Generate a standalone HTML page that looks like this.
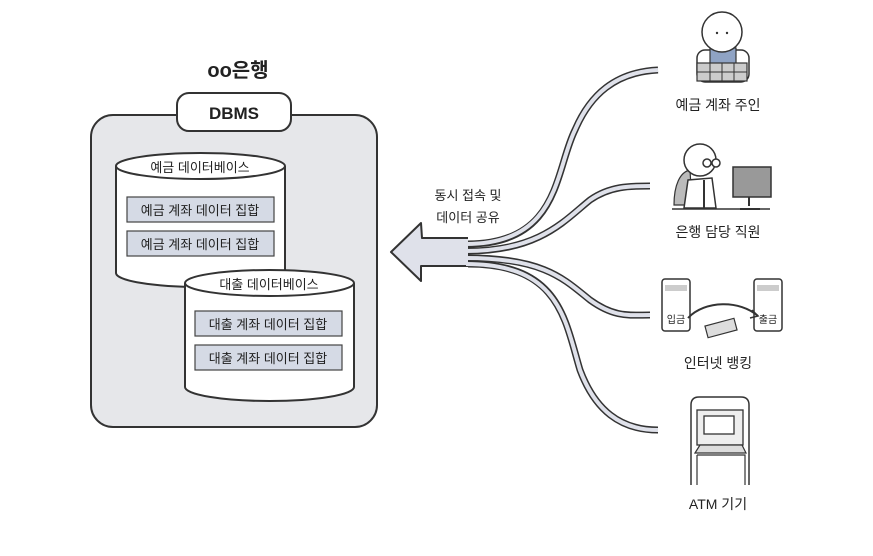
<!DOCTYPE html>
<html><head><meta charset="utf-8"><style>
html,body{margin:0;padding:0;background:#fff;}
svg{display:block;}
text{font-family:"Liberation Sans","Noto Sans CJK KR",sans-serif;fill:#222;}
</style></head><body>
<svg width="873" height="556" viewBox="0 0 873 556" xmlns="http://www.w3.org/2000/svg">
<text x="238" y="77" font-size="20" font-weight="bold" text-anchor="middle">oo은행</text>
<rect x="91" y="115" width="286" height="312" rx="22" fill="#e6e7ea" stroke="#333" stroke-width="2"/>
<rect x="177" y="93" width="114" height="38" rx="12" fill="#fff" stroke="#333" stroke-width="2"/>
<text x="234" y="119" font-size="17" font-weight="bold" text-anchor="middle">DBMS</text>
<!-- cylinder 1 -->
<path d="M116 166 V273 A84.5 14 0 0 0 285 273 V166" fill="#fff" stroke="#333" stroke-width="2"/>
<ellipse cx="200.5" cy="166" rx="84.5" ry="13" fill="#fff" stroke="#333" stroke-width="2"/>
<text x="200" y="172" font-size="13" text-anchor="middle">예금 데이터베이스</text>
<rect x="127" y="197" width="147" height="25" fill="#d5dae5" stroke="#444" stroke-width="1.2"/>
<text x="200" y="215" font-size="13" text-anchor="middle">예금 계좌 데이터 집합</text>
<rect x="127" y="231" width="147" height="25" fill="#d5dae5" stroke="#444" stroke-width="1.2"/>
<text x="200" y="249" font-size="13" text-anchor="middle">예금 계좌 데이터 집합</text>
<!-- cylinder 2 -->
<path d="M185 283 V387 A84.5 14 0 0 0 354 387 V283" fill="#fff" stroke="#333" stroke-width="2"/>
<ellipse cx="269.5" cy="283" rx="84.5" ry="13" fill="#fff" stroke="#333" stroke-width="2"/>
<text x="269" y="289" font-size="13" text-anchor="middle">대출 데이터베이스</text>
<rect x="195" y="311" width="147" height="25" fill="#d5dae5" stroke="#444" stroke-width="1.2"/>
<text x="268" y="329" font-size="13" text-anchor="middle">대출 계좌 데이터 집합</text>
<rect x="195" y="345" width="147" height="25" fill="#d5dae5" stroke="#444" stroke-width="1.2"/>
<text x="268" y="363" font-size="13" text-anchor="middle">대출 계좌 데이터 집합</text>
<!-- arrow -->
<path d="M468 238 L422 238 L421 223 L391 252 L421 281 L421 266 L468 266" fill="#dfe1ea" stroke="#333" stroke-width="2" stroke-linejoin="round"/>
<text x="468" y="200" font-size="13" text-anchor="middle">동시 접속 및</text>
<text x="468" y="222" font-size="13" text-anchor="middle">데이터 공유</text>
<g fill="none">
<g stroke="#333" stroke-width="7">
<path d="M468 244 C560 244 555 170 575 130 C590 95 615 72 658 70"/>
<path d="M468 251 C540 251 565 220 590 200 C610 186 630 186 650 186"/>
<path d="M468 258 C545 258 565 280 590 300 C615 318 630 315 650 315"/>
<path d="M468 264 C560 264 565 320 580 370 C595 410 620 430 658 430"/>
</g>
<g stroke="#dfe1ea" stroke-width="4">
<path d="M466 244 C560 244 555 170 575 130 C590 95 615 72 658 70"/>
<path d="M466 251 C540 251 565 220 590 200 C610 186 630 186 650 186"/>
<path d="M466 258 C545 258 565 280 590 300 C615 318 630 315 650 315"/>
<path d="M466 264 C560 264 565 320 580 370 C595 410 620 430 658 430"/>
</g>
</g>
<!-- person 1 -->
<rect x="697" y="50" width="52" height="32" rx="8" fill="#fff" stroke="#333" stroke-width="1.5"/>
<rect x="710" y="48" width="26" height="20" fill="#8fa3c4" stroke="#333" stroke-width="1.2"/>
<circle cx="722" cy="32" r="20" fill="#fff" stroke="#333" stroke-width="1.5"/>
<circle cx="717" cy="33" r="1.2" fill="#333"/><circle cx="727" cy="33" r="1.2" fill="#333"/>
<rect x="697" y="63" width="50" height="18" fill="#ccc" stroke="#333" stroke-width="1.2"/>
<path d="M710 63 V81 M722 63 V81 M734 63 V81 M697 72 H747" stroke="#333" stroke-width="1"/>
<text x="718" y="110" font-size="14" text-anchor="middle">예금 계좌 주인</text>
<!-- person 2 -->
<path d="M674 205 C674 185 680 172 690 170 L692 205 Z" fill="#bbb" stroke="#333" stroke-width="1.2"/>
<path d="M684 208 L688 180 L712 178 L716 208 Z" fill="#fff" stroke="#333" stroke-width="1.5"/>
<path d="M704 180 V208" stroke="#333" stroke-width="2"/>
<circle cx="700" cy="160" r="16" fill="#fff" stroke="#333" stroke-width="1.5"/>
<circle cx="707" cy="163" r="4" fill="#fff" stroke="#333" stroke-width="1.5"/>
<circle cx="716" cy="163" r="4" fill="#fff" stroke="#333" stroke-width="1.5"/>
<rect x="733" y="167" width="38" height="30" fill="#999" stroke="#333" stroke-width="1.5"/>
<path d="M749 197 V206 M740 209 H760" stroke="#333" stroke-width="2"/>
<path d="M672 209 H770" stroke="#333" stroke-width="1.5"/>
<text x="718" y="237" font-size="14" text-anchor="middle">은행 담당 직원</text>
<!-- internet banking -->
<rect x="662" y="279" width="28" height="52" rx="3" fill="#fff" stroke="#333" stroke-width="1.5"/>
<rect x="665" y="285" width="22" height="6" fill="#ccc"/>
<text x="676" y="323" font-size="10" text-anchor="middle">입금</text>
<rect x="754" y="279" width="28" height="52" rx="3" fill="#fff" stroke="#333" stroke-width="1.5"/>
<rect x="757" y="285" width="22" height="6" fill="#ccc"/>
<text x="768" y="323" font-size="10" text-anchor="middle">출금</text>
<path d="M688 318 C705 300 740 300 758 316" fill="none" stroke="#333" stroke-width="2"/>
<path d="M752 310 L758 316 L750 318" fill="none" stroke="#333" stroke-width="1.5"/>
<rect x="706" y="322" width="30" height="12" fill="#ddd" stroke="#333" stroke-width="1.2" transform="rotate(-15 721 328)"/>
<text x="718" y="368" font-size="14" text-anchor="middle">인터넷 뱅킹</text>
<!-- ATM -->
<path d="M691 485 V405 Q691 397 699 397 H741 Q749 397 749 405 V485" fill="#fff" stroke="#333" stroke-width="1.5"/>
<rect x="697" y="410" width="46" height="35" fill="#eee" stroke="#333" stroke-width="1.3"/>
<rect x="704" y="416" width="30" height="18" fill="#fff" stroke="#333" stroke-width="1.3"/>
<path d="M695 453 L700 445 H742 L746 453 Z" fill="#ddd" stroke="#333" stroke-width="1.2"/>
<path d="M697 455 H745 V485 M697 455 V485" fill="none" stroke="#333" stroke-width="1.2"/>
<text x="718" y="509" font-size="14" text-anchor="middle">ATM 기기</text>
</svg>
</body></html>
